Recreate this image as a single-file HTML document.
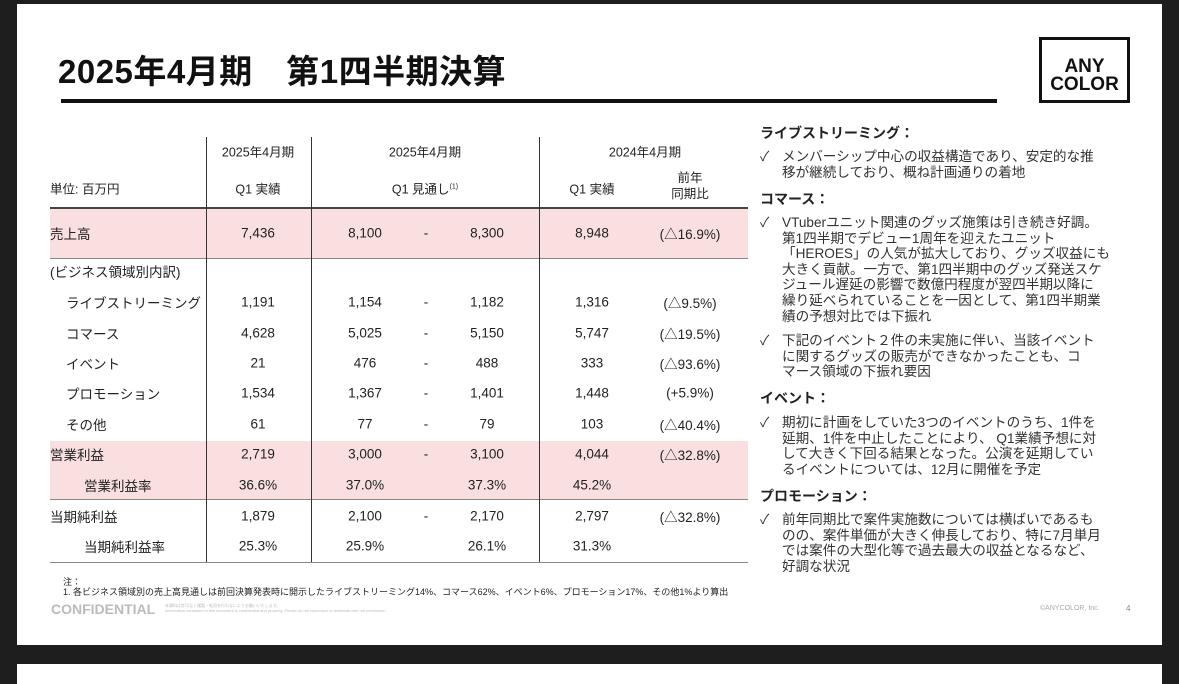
<!DOCTYPE html>
<html><head><meta charset="utf-8"><style>
*{margin:0;padding:0;box-sizing:border-box}
body{width:1179px;height:681px;background:#1e1e1e;position:relative;overflow:hidden;font-family:"Liberation Sans","Noto Sans CJK JP",sans-serif;color:#222}
.slide{position:absolute;left:17px;top:4px;width:1145px;height:641px;background:#fff}
.slide2{position:absolute;left:17px;top:664px;width:1145px;height:20px;background:#fff}
.a{position:absolute;white-space:nowrap}
.t{position:absolute;font-size:13.5px;white-space:nowrap;transform:translate(-50%,-50%)}
.l{position:absolute;font-size:13.5px;white-space:nowrap;transform:translateY(-50%)}
.r{font-size:13.6px;line-height:15.6px;color:#333}
.h{font-weight:bold;font-size:14px;color:#222}
</style></head><body>
<div class="slide"></div>
<div class="slide2"></div>
<div class="a" style="left:58px;top:45px;font-size:33px;font-weight:bold;color:#111;letter-spacing:0.5px">2025年4月期　第1四半期決算</div>
<div class="a" style="left:61px;top:99px;width:936px;height:4px;background:#111"></div>
<div class="a" style="left:1039px;top:37px;width:91px;height:66px;border:3px solid #111"></div>
<div class="a" style="left:1039px;top:58px;width:91px;text-align:center;font-size:19px;font-weight:bold;line-height:18px;color:#111">ANY<br>COLOR</div>

<div class="a" style="left:50px;top:208px;width:698px;height:50px;background:#f9dfe0"></div>
<div class="a" style="left:50px;top:441px;width:698px;height:58px;background:#f9dfe0"></div>
<div class="a" style="left:50px;top:207px;width:698px;height:2px;background:#444"></div>
<div class="a" style="left:50px;top:258px;width:698px;height:1px;background:#888"></div>
<div class="a" style="left:50px;top:499px;width:698px;height:1px;background:#888"></div>
<div class="a" style="left:50px;top:562px;width:698px;height:1px;background:#888"></div>
<div class="a" style="left:206px;top:137px;width:1px;height:425px;background:#333"></div>
<div class="a" style="left:311px;top:137px;width:1px;height:425px;background:#333"></div>
<div class="a" style="left:539px;top:137px;width:1px;height:425px;background:#333"></div>

<div class="t" style="left:258px;top:151px;font-size:12.5px">2025年4月期</div>
<div class="t" style="left:425px;top:151px;font-size:12.5px">2025年4月期</div>
<div class="t" style="left:645px;top:151px;font-size:12.5px">2024年4月期</div>
<div class="l" style="left:50px;top:188px;font-size:12.5px">単位: 百万円</div>
<div class="t" style="left:258px;top:188px;font-size:12.5px">Q1 実績</div>
<div class="t" style="left:425px;top:188px;font-size:12.5px">Q1 見通し<sup style="font-size:7px">(1)</sup></div>
<div class="t" style="left:592px;top:188px;font-size:12.5px">Q1 実績</div>
<div class="t" style="left:690px;top:186px;font-size:12.5px;text-align:center;line-height:16px">前年<br>同期比</div>

<div class="l" style="left:50px;top:233px">売上高</div>
<div class="t" style="left:258px;top:233px">7,436</div><div class="t" style="left:365px;top:233px">8,100</div><div class="t" style="left:426px;top:233px">-</div><div class="t" style="left:487px;top:233px">8,300</div><div class="t" style="left:592px;top:233px">8,948</div><div class="t" style="left:690px;top:233px">(△16.9%)</div>

<div class="l" style="left:50px;top:271px">(ビジネス領域別内訳)</div>

<div class="l" style="left:66px;top:302px">ライブストリーミング</div>
<div class="t" style="left:258px;top:302px">1,191</div><div class="t" style="left:365px;top:302px">1,154</div><div class="t" style="left:426px;top:302px">-</div><div class="t" style="left:487px;top:302px">1,182</div><div class="t" style="left:592px;top:302px">1,316</div><div class="t" style="left:690px;top:302px">(△9.5%)</div>

<div class="l" style="left:66px;top:333px">コマース</div>
<div class="t" style="left:258px;top:333px">4,628</div><div class="t" style="left:365px;top:333px">5,025</div><div class="t" style="left:426px;top:333px">-</div><div class="t" style="left:487px;top:333px">5,150</div><div class="t" style="left:592px;top:333px">5,747</div><div class="t" style="left:690px;top:333px">(△19.5%)</div>

<div class="l" style="left:66px;top:363px">イベント</div>
<div class="t" style="left:258px;top:363px">21</div><div class="t" style="left:365px;top:363px">476</div><div class="t" style="left:426px;top:363px">-</div><div class="t" style="left:487px;top:363px">488</div><div class="t" style="left:592px;top:363px">333</div><div class="t" style="left:690px;top:363px">(△93.6%)</div>

<div class="l" style="left:66px;top:393px">プロモーション</div>
<div class="t" style="left:258px;top:393px">1,534</div><div class="t" style="left:365px;top:393px">1,367</div><div class="t" style="left:426px;top:393px">-</div><div class="t" style="left:487px;top:393px">1,401</div><div class="t" style="left:592px;top:393px">1,448</div><div class="t" style="left:690px;top:393px">(+5.9%)</div>

<div class="l" style="left:66px;top:424px">その他</div>
<div class="t" style="left:258px;top:424px">61</div><div class="t" style="left:365px;top:424px">77</div><div class="t" style="left:426px;top:424px">-</div><div class="t" style="left:487px;top:424px">79</div><div class="t" style="left:592px;top:424px">103</div><div class="t" style="left:690px;top:424px">(△40.4%)</div>

<div class="l" style="left:50px;top:454px">営業利益</div>
<div class="t" style="left:258px;top:454px">2,719</div><div class="t" style="left:365px;top:454px">3,000</div><div class="t" style="left:426px;top:454px">-</div><div class="t" style="left:487px;top:454px">3,100</div><div class="t" style="left:592px;top:454px">4,044</div><div class="t" style="left:690px;top:454px">(△32.8%)</div>

<div class="l" style="left:84px;top:485px">営業利益率</div>
<div class="t" style="left:258px;top:485px">36.6%</div><div class="t" style="left:365px;top:485px">37.0%</div><div class="t" style="left:487px;top:485px">37.3%</div><div class="t" style="left:592px;top:485px">45.2%</div>

<div class="l" style="left:50px;top:516px">当期純利益</div>
<div class="t" style="left:258px;top:516px">1,879</div><div class="t" style="left:365px;top:516px">2,100</div><div class="t" style="left:426px;top:516px">-</div><div class="t" style="left:487px;top:516px">2,170</div><div class="t" style="left:592px;top:516px">2,797</div><div class="t" style="left:690px;top:516px">(△32.8%)</div>

<div class="l" style="left:84px;top:546px">当期純利益率</div>
<div class="t" style="left:258px;top:546px">25.3%</div><div class="t" style="left:365px;top:546px">25.9%</div><div class="t" style="left:487px;top:546px">26.1%</div><div class="t" style="left:592px;top:546px">31.3%</div>

<div class="a" style="left:63px;top:577px;font-size:9px;line-height:10px;color:#222">注：<br>1. 各ビジネス領域別の売上高見通しは前回決算発表時に開示したライブストリーミング14%、コマース62%、イベント6%、プロモーション17%、その他1%より算出</div>
<div class="a" style="left:51px;top:601px;font-size:14px;font-weight:bold;color:#bbb">CONFIDENTIAL</div>
<div class="a" style="left:165px;top:603px;font-size:4px;line-height:5px;color:#bbb">本資料は許可なく複製・転用を行わないようお願いいたします。<br>Information contained in this document is confidential and property. Please do not reproduce or distribute with out permission.</div>
<div class="a" style="left:1040px;top:605px;font-size:7px;color:#aaa">©ANYCOLOR, Inc.</div>
<div class="a" style="left:1126px;top:604px;font-size:8px;color:#888">4</div>

<div class="a h" style="left:760px;top:123px">ライブストリーミング：</div>
<div class="a r" style="left:760px;top:149px">✓</div>
<div class="a r" style="left:782px;top:149px">メンバーシップ中心の収益構造であり、安定的な推<br>移が継続しており、概ね計画通りの着地</div>
<div class="a h" style="left:760px;top:189px">コマース：</div>
<div class="a r" style="left:760px;top:215px">✓</div>
<div class="a r" style="left:782px;top:215px">VTuberユニット関連のグッズ施策は引き続き好調。<br>第1四半期でデビュー1周年を迎えたユニット<br>「HEROES」の人気が拡大しており、グッズ収益にも<br>大きく貢献。一方で、第1四半期中のグッズ発送スケ<br>ジュール遅延の影響で数億円程度が翌四半期以降に<br>繰り延べられていることを一因として、第1四半期業<br>績の予想対比では下振れ</div>
<div class="a r" style="left:760px;top:333px">✓</div>
<div class="a r" style="left:782px;top:333px">下記のイベント２件の未実施に伴い、当該イベント<br>に関するグッズの販売ができなかったことも、コ<br>マース領域の下振れ要因</div>
<div class="a h" style="left:760px;top:388px">イベント：</div>
<div class="a r" style="left:760px;top:415px">✓</div>
<div class="a r" style="left:782px;top:415px">期初に計画をしていた3つのイベントのうち、1件を<br>延期、1件を中止したことにより、 Q1業績予想に対<br>して大きく下回る結果となった。公演を延期してい<br>るイベントについては、12月に開催を予定</div>
<div class="a h" style="left:760px;top:486px">プロモーション：</div>
<div class="a r" style="left:760px;top:512px">✓</div>
<div class="a r" style="left:782px;top:512px">前年同期比で案件実施数については横ばいであるも<br>のの、案件単価が大きく伸長しており、特に7月単月<br>では案件の大型化等で過去最大の収益となるなど、<br>好調な状況</div>
</body></html>
